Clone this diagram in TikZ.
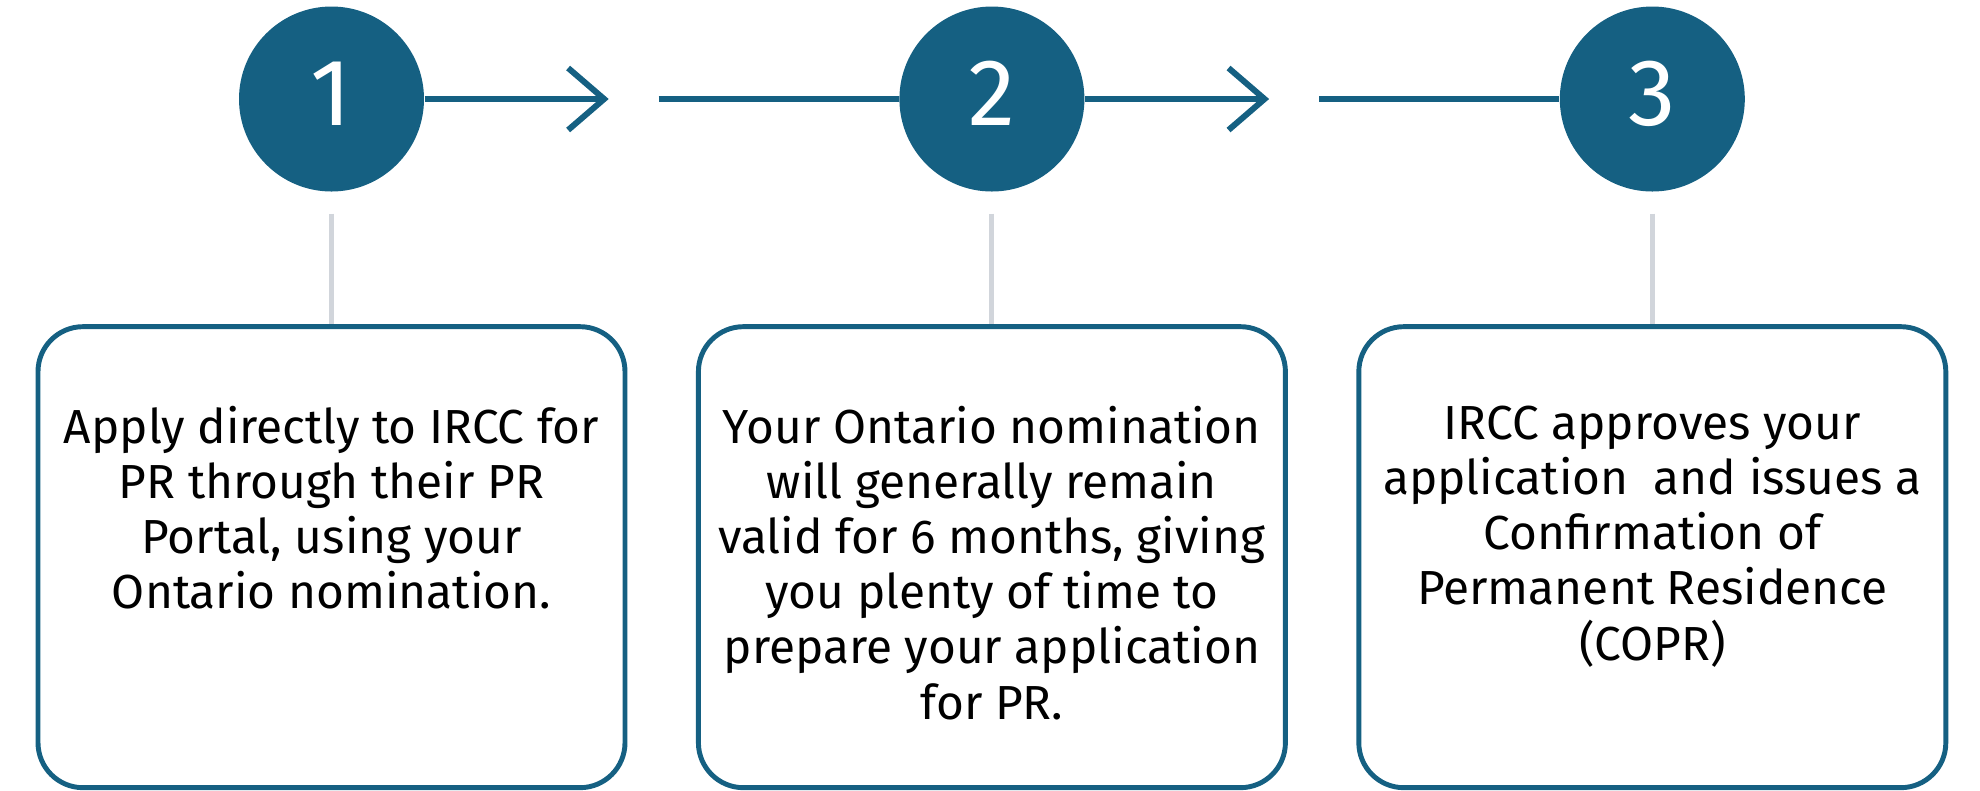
\documentclass[tikz,border=0pt]{standalone}
\usepackage{fontspec}
\setmainfont{Fira Sans}
\usepackage{tikz}
\usetikzlibrary{positioning, arrows.meta}
\definecolor{stepteal}{HTML}{156082}
\definecolor{stepgray}{HTML}{D1D5DB}

\begin{document}
\begin{tikzpicture}
        \tikzstyle{stepnum}=[circle, fill=stepteal, text=white, minimum size=1.85cm, inner sep=0pt, font=\fontsize{27}{27}\selectfont, text depth=0.11cm];
        \tikzstyle{stepbox}=[draw=stepteal, line width=1.4pt, rounded corners=0.45cm, minimum width=5.87cm, minimum height=4.61cm, inner sep=0pt];
        \tikzstyle{steptext}=[align=center, inner sep=0pt, font=\fontsize{13.6}{15.7}\selectfont];
        \tikzstyle{stepline}=[draw=stepteal, line width=1.7pt];
        \tikzstyle{steplink}=[draw=stepgray, line width=1.4pt];
        \useasboundingbox (0,0) rectangle (19.8,-7.9);
        % numbered steps
        \node[stepnum] (n1) at (3.315,-0.99) {1};
        \node[stepnum, right=4.74cm of n1] (n2) {2};
        \node[stepnum, right=4.74cm of n2] (n3) {3};
        % boxes under the steps
        \node[stepbox, below=1.32cm of n1] (b1) {};
        \node[stepbox, below=1.32cm of n2] (b2) {};
        \node[stepbox, below=1.32cm of n3] (b3) {};
        \node[steptext, below=0.81cm of b1.north] (t1) {Apply directly to IRCC for\\PR through their PR\\Portal, using your\\Ontario nomination.};
        \node[steptext, below=0.81cm of b2.north] (t2) {Your Ontario nomination\\will generally remain\\valid for 6 months, giving\\you plenty of time to\\prepare your application\\for PR.};
        \node[steptext, below=0.81cm of b3.north] (t3) {IRCC approves your\\application\ \ and issues a\\Confirmation of\\Permanent Residence\\(COPR)};
        % arrows between the steps
        \coordinate[right=1.84cm of n1.east] (a1);
        \coordinate[right=0.5cm of a1] (c1);
        \coordinate[right=1.84cm of n2.east] (a2);
        \coordinate[right=0.5cm of a2] (c2);
        \draw[stepline, -{Straight Barb[length=3.6mm, width=6.2mm]}] (n1) -- (a1);
        \draw[stepline] (c1) -- (n2);
        \draw[stepline, -{Straight Barb[length=3.6mm, width=6.2mm]}] (n2) -- (a2);
        \draw[stepline] (c2) -- (n3);
        % links down to the boxes
        \foreach \i in {1,2,3}
            \draw[steplink] ([yshift=-2.15mm]n\i.south) -- (b\i.north);
    \end{tikzpicture}
\end{document}
